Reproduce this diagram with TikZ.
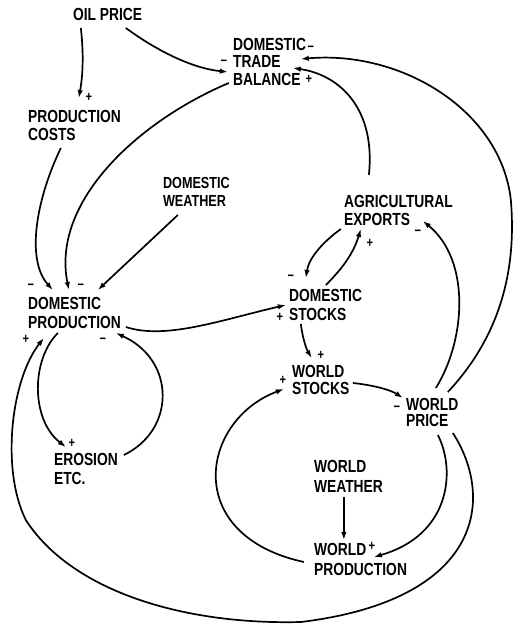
\documentclass[tikz,border=0pt]{standalone}
\usepackage{fontspec}
\setmainfont[FakeStretch=0.79]{Liberation Sans}
\usetikzlibrary{arrows.meta,calc}
\tikzset{
  lab/.style={anchor=north west, inner sep=0pt, align=left, font=\fontsize{17.5}{19.5}\selectfont\bfseries},
  sg/.style={inner sep=0pt, font=\fontsize{14}{14}\selectfont\bfseries},
  con/.style={line width=1.7pt, -{Latex[length=8pt,width=5.5pt]}}
}
\begin{document}
\begin{tikzpicture}[x=1pt,y=-1pt]
\fill[white] (0,0) rectangle (513,626);
% nodes
\node[lab] (oil) at (72,8) {OIL PRICE};
\node[lab,font=\fontsize{17.5}{17.5}\selectfont\bfseries] (tb) at (232,38) {DOMESTIC\\TRADE\\BALANCE};
\node[lab,font=\fontsize{17.5}{18}\selectfont\bfseries] (pc) at (27,110) {PRODUCTION\\COSTS};
\node[lab,font=\fontsize{16}{18}\selectfont\bfseries] (dw) at (162,177) {DOMESTIC\\WEATHER};
\node[lab,font=\fontsize{17.5}{18}\selectfont\bfseries] (ag) at (343,195) {AGRICULTURAL\\EXPORTS};
\node[lab] (dp) at (27,297) {DOMESTIC\\PRODUCTION};
\node[lab] (ds) at (288,289) {DOMESTIC\\STOCKS};
\node[lab,font=\fontsize{17.5}{17}\selectfont\bfseries] (ws) at (291,365) {WORLD\\STOCKS};
\node[lab,font=\fontsize{17.5}{16.5}\selectfont\bfseries] (wp) at (405,398) {WORLD\\PRICE};
\node[lab] (er) at (53,453) {EROSION\\ETC.};
\node[lab,font=\fontsize{17.5}{20}\selectfont\bfseries] (ww) at (313,460) {WORLD\\WEATHER};
\node[lab,font=\fontsize{17.5}{20}\selectfont\bfseries] (wpr) at (313,543) {WORLD\\PRODUCTION};
% signs
\node[sg] (s1) at (88,97) {+};
\node[sg] (s2) at (223,63) {−};
\node[sg] (s3) at (310,49) {−};
\node[sg] (s4) at (308,79) {+};
\node[sg] (s5) at (30,287) {−};
\node[sg] (s6) at (80,287) {−};
\node[sg] (s7) at (25,339) {+};
\node[sg] (s8) at (102,341) {−};
\node[sg] (s9) at (290,278) {−};
\node[sg] (s10) at (279,317) {+};
\node[sg] (s11) at (369,243) {+};
\node[sg] (s12) at (417,233) {−};
\node[sg] (s13) at (320,355) {+};
\node[sg] (s14) at (282,380) {+};
\node[sg] (s15) at (396,409) {−};
\node[sg] (s16) at (371,546) {+};
\node[sg] (s17) at (71,443) {+};
% connectors
\draw[con] ([shift={(8,20)}]oil.north west) .. controls (83,55) and (82,75) .. ([shift={(51,-12)}]pc.north west);
\draw[con] ([shift={(53,20)}]oil.north west) .. controls (155,50) and (190,68) .. ([shift={(-5,34)}]tb.north west);
\draw[con] ([shift={(33,38)}]pc.north west) .. controls (35,200) and (25,260) .. ([shift={(25,-7)}]dp.north west);
\draw[con] ([shift={(-4,45)}]tb.north west) .. controls (140,120) and (50,200) .. ([shift={(41,-7)}]dp.north west);
\draw[con] ([shift={(15,38)}]dw.north west) -- ([shift={(70,-7)}]dp.north west);
\draw[con] ([shift={(25,-20)}]ag.north west) .. controls (375,110) and (340,75) .. ([shift={(60,30)}]tb.north west);
\draw[con] ([shift={(42,-6)}]wp.north west) .. controls (505,330) and (515,260) .. (510,200) .. controls (500,110) and (400,50) .. ([shift={(68,21)}]tb.north west);
\draw[con] ([shift={(30,-10)}]wp.north west) .. controls (465,340) and (470,260) .. ([shift={(79,26)}]ag.north west);
\draw[con] ([shift={(-3,34)}]ag.north west) .. controls (322,242) and (308,258) .. ([shift={(17,-11)}]ds.north west);
\draw[con] ([shift={(37,-4)}]ds.north west) .. controls (340,270) and (352,255) .. ([shift={(17,34)}]ag.north west);
\draw[con] ([shift={(98,30)}]dp.north west) .. controls (165,340) and (220,320) .. ([shift={(-3,16)}]ds.north west);
\draw[con] ([shift={(12,35)}]ds.north west) .. controls (302,340) and (306,350) .. ([shift={(20,-7)}]ws.north west);
\draw[con] ([shift={(61,18)}]ws.north west) .. controls (372,385) and (390,390) .. ([shift={(-3,0)}]wp.north west);
\draw[con] ([shift={(32,37)}]wp.north west) .. controls (455,470) and (450,535) .. ([shift={(60,14)}]wpr.north west);
\draw[con] ([shift={(-10,19)}]wpr.north west) .. controls (180,535) and (200,420) .. ([shift={(-8,24)}]ws.north west);
\draw[con] ([shift={(30,37)}]ww.north west) -- ([shift={(30,-3)}]wpr.north west);
\draw[con] ([shift={(47,35)}]wp.north west) .. controls (495,500) and (480,600) .. (300,622) .. controls (180,625) and (70,590) .. (25,520) .. controls (0,470) and (10,380) .. ([shift={(16,41)}]dp.north west);
\draw[con] ([shift={(30,36)}]dp.north west) .. controls (30,360) and (30,420) .. ([shift={(12,-6)}]er.north west);
\draw[con] ([shift={(70,2)}]er.north west) .. controls (175,430) and (175,360) .. ([shift={(88,36)}]dp.north west);
\end{tikzpicture}
\end{document}
